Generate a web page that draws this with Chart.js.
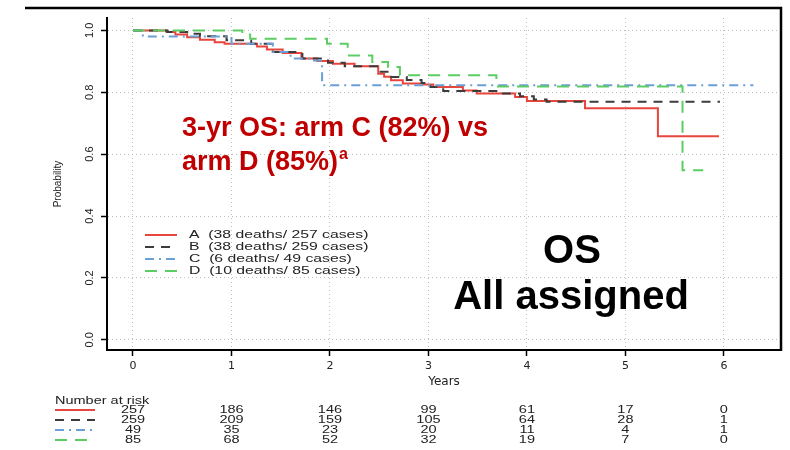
<!DOCTYPE html>
<html><head><meta charset="utf-8">
<script src="https://cdn.jsdelivr.net/npm/chart.js@4.4.0/dist/chart.umd.min.js"></script>
<style>html,body{margin:0;padding:0;background:#fff;}#wrap{width:790px;height:450px;}</style>
</head><body><div id="wrap"><canvas id="c" width="790" height="450"></canvas></div>
<script>
// ---- data ----
const armNames = ['A', 'B', 'C', 'D'];
const legendTexts = ['A  (38 deaths/ 257 cases)', 'B  (38 deaths/ 259 cases)', 'C  (6 deaths/ 49 cases)', 'D  (10 deaths/ 85 cases)'];

const timesA = [0, 0.34, 0.43, 0.55, 0.68, 0.83, 0.93, 1.26, 1.36, 1.52, 1.71, 1.87, 2.03, 2.25, 2.49, 2.55, 2.62, 2.74, 2.95, 3.05, 3.35, 3.49, 3.88, 4.00, 4.59, 5.33, 5.95];
const survA  = [1.0, 0.995, 0.987, 0.978, 0.970, 0.962, 0.957, 0.948, 0.938, 0.927, 0.909, 0.901, 0.892, 0.884, 0.860, 0.850, 0.839, 0.828, 0.825, 0.817, 0.806, 0.796, 0.785, 0.772, 0.748, 0.658, 0.658];

const timesB = [0, 0.35, 0.55, 0.68, 0.95, 1.20, 1.42, 1.72, 1.98, 2.15, 2.48, 2.60, 2.78, 2.93, 3.02, 3.15, 3.73, 3.93, 4.07, 4.20, 5.96];
const survB  = [1.0, 0.995, 0.989, 0.981, 0.968, 0.957, 0.930, 0.909, 0.895, 0.884, 0.866, 0.849, 0.840, 0.830, 0.817, 0.804, 0.796, 0.787, 0.777, 0.769, 0.769];

const timesC = [0, 0.10, 1.00, 1.42, 1.60, 1.80, 1.92, 6.30];
const survC  = [1.0, 0.980, 0.957, 0.930, 0.909, 0.903, 0.823, 0.823];

const timesD = [0, 1.11, 1.19, 1.97, 2.18, 2.43, 2.59, 2.71, 3.69, 5.58, 5.79];
const survD  = [1.0, 0.987, 0.973, 0.957, 0.919, 0.898, 0.882, 0.855, 0.819, 0.548, 0.548];

const riskTimes = [0, 1, 2, 3, 4, 5, 6];
const riskA = [257, 186, 146, 99, 61, 17, 0];
const riskB = [259, 209, 159, 105, 64, 28, 1];
const riskC = [49, 35, 23, 20, 11, 4, 1];
const riskD = [85, 68, 52, 32, 19, 7, 0];

const xTicks = [0, 1, 2, 3, 4, 5, 6];
const yTicks = [0, 0.2, 0.4, 0.6, 0.8, 1.0];

// ---- styles ----
const styles = [
  { color: '#e8463c', dash: [] },
  { color: '#3c3c3c', dash: [9, 7] },
  { color: '#6a9fd8', dash: [9, 5, 2, 5] },
  { color: '#5ccd62', dash: [12, 8] }
];
const allTimes = [timesA, timesB, timesC, timesD];
const allSurv = [survA, survB, survC, survD];
const allRisk = [riskA, riskB, riskC, riskD];

const datasets = armNames.map((n, i) => ({
  label: n,
  data: allTimes[i].map((t, j) => ({ x: t, y: allSurv[i][j] })),
  stepped: true,
  borderColor: styles[i].color,
  borderDash: styles[i].dash,
  borderWidth: 2,
  pointRadius: 0,
  fill: false,
  order: 4 - i
}));

const FONT = '"Liberation Sans", Arial, sans-serif';

function stretchText(ctx, text, x, y, align, sx) {
  ctx.save();
  ctx.translate(x, y);
  ctx.scale(sx, 1);
  ctx.textAlign = align;
  ctx.fillText(text, 0, 0);
  ctx.restore();
}

const overlay = {
  id: 'overlay',
  afterDraw(chart) {
    const ctx = chart.ctx;
    const xs = chart.scales.x;
    ctx.save();
    // frame
    ctx.strokeStyle = '#000';
    ctx.lineWidth = 2.5;
    ctx.beginPath();
    ctx.moveTo(25, 8); ctx.lineTo(781, 8); ctx.lineTo(781, 351);
    ctx.stroke();

    // legend
    ctx.font = '10.5px ' + FONT;
    ctx.textBaseline = 'middle';
    const ly = [235, 247, 259, 271];
    armNames.forEach((n, i) => {
      ctx.strokeStyle = styles[i].color;
      ctx.lineWidth = 2;
      ctx.setLineDash(styles[i].dash);
      ctx.beginPath(); ctx.moveTo(145, ly[i]); ctx.lineTo(177, ly[i]); ctx.stroke();
      ctx.setLineDash([]);
      ctx.fillStyle = '#222';
      stretchText(ctx, legendTexts[i], 189, ly[i], 'left', 1.5);
    });

    // number at risk table
    ctx.fillStyle = '#222';
    ctx.font = '10px ' + FONT;
    stretchText(ctx, 'Number at risk', 55, 401, 'left', 1.45);
    const ry = [410, 420, 430, 440];
    armNames.forEach((n, i) => {
      ctx.strokeStyle = styles[i].color;
      ctx.lineWidth = 2;
      ctx.setLineDash(styles[i].dash);
      ctx.beginPath(); ctx.moveTo(55, ry[i]); ctx.lineTo(95, ry[i]); ctx.stroke();
      ctx.setLineDash([]);
      ctx.fillStyle = '#222';
      allRisk[i].forEach((v, j) => {
        stretchText(ctx, String(v), xs.getPixelForValue(riskTimes[j]), ry[i], 'center', 1.45);
      });
    });

    // annotations
    ctx.fillStyle = '#c00000';
    ctx.font = 'bold 27px ' + FONT;
    ctx.textAlign = 'left';
    ctx.fillText('3-yr OS: arm C (82%) vs', 182, 129);
    const l2 = 'arm D (85%)';
    ctx.fillText(l2, 182, 163);
    const w2 = ctx.measureText(l2).width;
    ctx.font = 'bold 16px ' + FONT;
    ctx.fillText('a', 182 + w2 + 1, 155);

    ctx.fillStyle = '#000';
    ctx.textAlign = 'center';
    ctx.font = 'bold 40px ' + FONT;
    ctx.fillText('OS', 572, 252);
    ctx.fillText('All assigned', 571, 298);
    ctx.restore();
  }
};

new Chart(document.getElementById('c'), {
  type: 'line',
  data: { datasets },
  options: {
    responsive: false,
    animation: false,
    devicePixelRatio: 1,
    layout: { padding: { left: 50, right: 9, top: 18, bottom: 60 } },
    plugins: { legend: { display: false }, tooltip: { enabled: false } },
    scales: {
      x: {
        type: 'linear', min: -0.264, max: 6.58,
        afterBuildTicks: s => { s.ticks = xTicks.map(v => ({ value: v })); },
        afterFit: s => { s.height = 40; },
        ticks: { color: '#222', font: { family: '"DejaVu Sans", sans-serif', size: 11 }, padding: 4, callback: v => String(v) },
        grid: { color: '#bdbdbd', lineWidth: 1, drawTicks: true, tickLength: 6, tickColor: '#000', tickWidth: 1.5, tickBorderDash: [] },
        border: { display: true, color: '#000', width: 2, dash: [1, 3] },
        title: { display: true, text: 'Years', color: '#222', font: { family: '"DejaVu Sans", sans-serif', size: 12 }, padding: { top: 0, bottom: 1 } }
      },
      y: {
        type: 'linear', min: -0.033, max: 1.04,
        afterBuildTicks: s => { s.ticks = yTicks.map(v => ({ value: v })); },
        afterFit: s => { s.width = 57; },
        ticks: { color: '#222', font: { family: FONT, size: 11 }, padding: 3, minRotation: 90, maxRotation: 90, crossAlign: 'center', callback: v => Number(v).toFixed(1) },
        grid: { color: '#bdbdbd', lineWidth: 1, drawTicks: true, tickLength: 6, tickColor: '#000', tickWidth: 1.5, tickBorderDash: [] },
        border: { display: true, color: '#000', width: 2, dash: [1, 3] },
        title: { display: true, text: 'Probability', color: '#222', font: { family: FONT, size: 10 }, padding: { top: 2, bottom: 0 } }
      }
    }
  },
  plugins: [overlay]
});
</script>
</body></html>
